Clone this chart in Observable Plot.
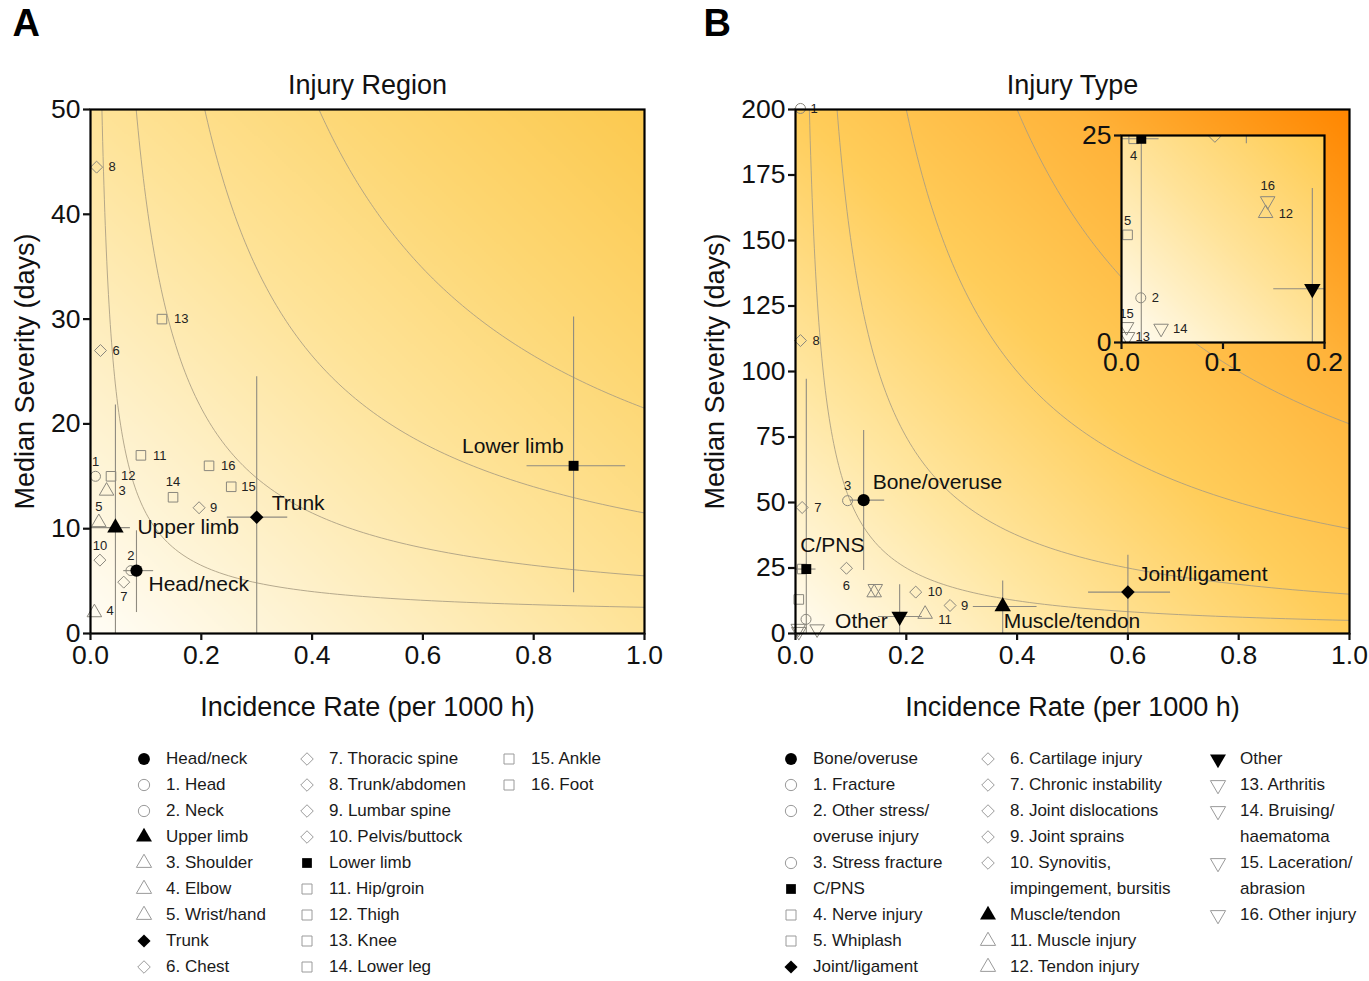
<!DOCTYPE html>
<html>
<head>
<meta charset="utf-8">
<script src="https://cdn.jsdelivr.net/npm/d3@7"></script>
<script src="https://cdn.jsdelivr.net/npm/@observablehq/plot@0.6"></script>
<style>
  body { margin: 0; background: #ffffff; font-family: "Liberation Sans", Arial, Helvetica, sans-serif; }
  #root { position: relative; width: 1369px; height: 981px; overflow: hidden; background: #fff; }
  .legcol { position: absolute; top: 746px; font-size: 17px; color: #1a1a1a; }
  .legitem { position: relative; }
  .legitem svg { position: absolute; left: 0; top: 0; }
  .legitem .t { position: relative; left: 33px; line-height: 26px; white-space: pre; }
</style>
</head>
<body>
<div id="root"></div>
<script>
// ---------------- Panel A data: Injury Region ----------------
const regionGroups = ["Head/neck", "Upper limb", "Trunk", "Lower limb"];
const regionGroupSymbol = ["circle", "triangle", "diamond", "square"];
const regionGroupRate = [0.083, 0.045, 0.300, 0.872];
const regionGroupSeverity = [6.0, 10.1, 11.1, 16.0];
const regionGroupRateLow = [0.060, 0.000, 0.247, 0.788];
const regionGroupRateHigh = [0.114, 0.072, 0.356, 0.966];
const regionGroupSevLow = [2.0, 0.0, 0.0, 3.9];
const regionGroupSevHigh = [9.8, 21.8, 24.5, 30.2];

const regions = ["1. Head", "2. Neck", "3. Shoulder", "4. Elbow", "5. Wrist/hand", "6. Chest",
  "7. Thoracic spine", "8. Trunk/abdomen", "9. Lumbar spine", "10. Pelvis/buttock", "11. Hip/groin",
  "12. Thigh", "13. Knee", "14. Lower leg", "15. Ankle", "16. Foot"];
const regionGroupOf = [0, 0, 1, 1, 1, 2, 2, 2, 2, 2, 3, 3, 3, 3, 3, 3];
const regionRate = [0.009, 0.073, 0.029, 0.007, 0.015, 0.018, 0.060, 0.011, 0.196, 0.017, 0.091, 0.037, 0.129, 0.149, 0.254, 0.214];
const regionSeverity = [15.0, 6.0, 13.6, 2.0, 10.6, 27.0, 4.9, 44.5, 12.0, 7.0, 17.0, 15.0, 30.0, 13.0, 14.0, 16.0];
const regionBurdenLevels = [1, 4, 10, 20];
const regionBurdenOffset = 1.5;

// ---------------- Panel B data: Injury Type ----------------
const typeGroups = ["Bone/overuse", "C/PNS", "Joint/ligament", "Muscle/tendon", "Other"];
const typeGroupSymbol = ["circle", "square", "diamond", "triangle", "triangleDown"];
const typeGroupRate = [0.123, 0.0195, 0.600, 0.374, 0.188];
const typeGroupSeverity = [50.9, 24.6, 15.8, 10.3, 6.5];
const typeGroupRateLow = [0.099, 0.000, 0.529, 0.321, 0.150];
const typeGroupRateHigh = [0.161, 0.037, 0.677, 0.436, 0.229];
const typeGroupSevLow = [24.0, 0.0, 0.0, 0.0, 0.0];
const typeGroupSevHigh = [77.5, 97.0, 29.9, 20.0, 18.6];

const types = ["1. Fracture", "2. Other stress/\noveruse injury", "3. Stress fracture", "4. Nerve injury",
  "5. Whiplash", "6. Cartilage injury", "7. Chronic instability", "8. Joint dislocations", "9. Joint sprains",
  "10. Synovitis,\nimpingement, bursitis", "11. Muscle injury", "12. Tendon injury", "13. Arthritis",
  "14. Bruising/\nhaematoma", "15. Laceration/\nabrasion", "16. Other injury"];
const typeGroupOf = [0, 0, 0, 1, 1, 2, 2, 2, 2, 2, 3, 3, 4, 4, 4, 4];
const typeRate = [0.009, 0.019, 0.094, 0.012, 0.006, 0.092, 0.012, 0.009, 0.279, 0.217, 0.234, 0.142, 0.006, 0.039, 0.005, 0.144];
const typeSeverity = [200.4, 5.4, 50.7, 24.6, 13.0, 24.9, 48.1, 111.8, 10.7, 15.8, 7.4, 15.6, 0.7, 1.7, 1.9, 17.1];
const typeBurdenLevels = [5, 15, 40, 80];

const xTicks = [0, 0.2, 0.4, 0.6, 0.8, 1.0];
const yTicksA = [0, 10, 20, 30, 40, 50];
const yTicksB = [0, 25, 50, 75, 100, 125, 150, 175, 200];
const insetXTicks = [0, 0.1, 0.2];
const insetYTicks = [0, 25];

// ---------------- styling / placement ----------------
const FONT = '"Liberation Sans", Arial, Helvetica, sans-serif';
const TICK_FONT = 26.5;
const triangleDown = {
  draw(context, size) {
    const y = Math.sqrt(size / (Math.sqrt(3) * 3));
    context.moveTo(0, 2 * y);
    context.lineTo(-Math.sqrt(3) * y, -y);
    context.lineTo(Math.sqrt(3) * y, -y);
    context.closePath();
  }
};
const plotSymbol = {circle: "circle", triangle: "triangle", diamond: "diamond2", square: "square", triangleDown};
const d3Symbol = {circle: d3.symbolCircle, triangle: d3.symbolTriangle, diamond: d3.symbolDiamond2, square: d3.symbolSquare, triangleDown};

const SUB_STROKE = "#8a877d";
const BAR_STROKE = "#8f8b80";
const ISO_STROKE = "#a89c82";

// label placement (dx, dy, anchor) keyed by item number
const R = [12, 0, "start"];
const regionLabelPlace = {1: [0, -14, "middle"], 2: [0, -15, "middle"], 3: [12, 0, "start"], 4: [12, -2, "start"],
  5: [0, -16, "middle"], 6: R, 7: [0, 15, "middle"], 8: R, 9: [11, 0, "start"], 10: [0, -14, "middle"],
  11: R, 12: [10, 0, "start"], 13: R, 14: [0, -15, "middle"], 15: [10, 0, "start"], 16: R};
const typeLabelPlaceMain = {1: [10, 0, "start"], 3: [0, -15, "middle"], 6: [0, 18, "middle"], 7: R, 8: R,
  9: [11, 0, "start"], 10: R, 11: [13, 6, "start"]};
const typeLabelPlaceInset = {2: [11, 0, "start"], 4: [0, 17, "middle"], 5: [0, -14, "middle"], 12: [13, 0, "start"],
  13: [8, 0, "start"], 14: [12, 0, "start"], 15: [0, -13, "middle"], 16: [0, -15, "middle"]};
const regionGroupLabelPlace = {"Head/neck": [12, 14, "start"], "Upper limb": [22, 0, "start"],
  "Trunk": [15, -14, "start"], "Lower limb": [-10, -20, "end"]};
const typeGroupLabelPlace = {"Bone/overuse": [9, -18, "start"], "C/PNS": [-6, -24, "start"],
  "Joint/ligament": [10, -18, "start"], "Muscle/tendon": [1, 15, "start"], "Other": [-12, 5, "end"]};

// ---------------- build tables ----------------
const groupTable = (names, sym, rate, sev, rl, rh, sl, sh) => names.map((name, i) => ({
  name, symbol: sym[i], rate: rate[i], sev: sev[i], rateLow: rl[i], rateHigh: rh[i], sevLow: sl[i], sevHigh: sh[i]}));
const subTable = (names, groupOf, groupSym, rate, sev) => names.map((name, i) => ({
  name, num: name.split(".")[0], group: groupOf[i], symbol: groupSym[groupOf[i]], rate: rate[i], sev: sev[i]}));

const regionGroupData = groupTable(regionGroups, regionGroupSymbol, regionGroupRate, regionGroupSeverity,
  regionGroupRateLow, regionGroupRateHigh, regionGroupSevLow, regionGroupSevHigh);
const regionData = subTable(regions, regionGroupOf, regionGroupSymbol, regionRate, regionSeverity);
const typeGroupData = groupTable(typeGroups, typeGroupSymbol, typeGroupRate, typeGroupSeverity,
  typeGroupRateLow, typeGroupRateHigh, typeGroupSevLow, typeGroupSevHigh);
const typeData = subTable(types, typeGroupOf, typeGroupSymbol, typeRate, typeSeverity);

function isoCurves(levels, offset, xMax, yMax) {
  return levels.flatMap(c => {
    const x0 = c / (yMax - offset);
    return d3.range(121).map(k => {
      const x = x0 * Math.pow(xMax / x0, k / 120);
      return {level: c, x, y: c / x + offset};
    });
  });
}

function pointMarks(groups, subs, opts) {
  const clip = !!opts.clip;
  const marks = [];
  marks.push(Plot.ruleX(groups, {x: "rate", y1: "sevLow", y2: "sevHigh", stroke: BAR_STROKE, strokeWidth: 1.1, clip}));
  marks.push(Plot.ruleY(groups, {y: "sev", x1: "rateLow", x2: "rateHigh", stroke: BAR_STROKE, strokeWidth: 1.1, clip}));
  for (const s of new Set(subs.map(d => d.symbol))) {
    marks.push(Plot.dot(subs.filter(d => d.symbol === s), {x: "rate", y: "sev", r: s === "circle" ? 5 : 5.4,
      symbol: plotSymbol[s], fill: "none", stroke: SUB_STROKE, strokeWidth: 1, clip}));
  }
  for (const s of new Set(groups.map(d => d.symbol))) {
    marks.push(Plot.dot(groups.filter(d => d.symbol === s), {x: "rate", y: "sev", r: s === "square" ? 5.6 : 6.1,
      symbol: plotSymbol[s], fill: "black", stroke: "none", clip}));
  }
  for (const d of subs) {
    const p = opts.numPlace[d.num];
    if (!p) continue;
    marks.push(Plot.text([d], {x: "rate", y: "sev", text: "num", dx: p[0], dy: p[1], textAnchor: p[2],
      lineAnchor: "middle", fontSize: 13, fill: "#222", clip}));
  }
  if (opts.groupPlace) {
    for (const d of groups) {
      const p = opts.groupPlace[d.name];
      marks.push(Plot.text([d], {x: "rate", y: "sev", text: "name", dx: p[0], dy: p[1], textAnchor: p[2],
        lineAnchor: "middle", fontSize: 21, fill: "#111"}));
    }
  }
  return marks;
}

function mainPanel({left, width, letter, letterDx, title, yDomain, yTicks, yLabelDx, gradient, colorRange,
                    iso, groups, subs, numPlace, groupPlace}) {
  return Plot.plot({
    width, height: 735,
    marginLeft: 90, marginRight: width - 90 - 554, marginTop: 109, marginBottom: 102,
    style: {position: "absolute", left: left + "px", top: "0px", background: "transparent",
      overflow: "visible", fontFamily: FONT, fontSize: TICK_FONT + "px", color: "#111"},
    x: {domain: [0, 1]},
    y: {domain: yDomain},
    color: {type: "linear", domain: [0, 0.25, 0.5, 0.75, 1], range: colorRange, interpolate: "rgb"},
    marks: [
      Plot.raster({x1: 0, x2: 1, y1: yDomain[0], y2: yDomain[1], fill: gradient, pixelSize: 2, imageRendering: "auto"}),
      Plot.line(iso, {x: "x", y: "y", z: "level", stroke: ISO_STROKE, strokeWidth: 1, strokeOpacity: 0.85, clip: true}),
      ...pointMarks(groups, subs, {numPlace, groupPlace}),
      Plot.frame({stroke: "black", strokeWidth: 2.2}),
      Plot.axisX({ticks: xTicks, tickFormat: d3.format(".1f"), tickSize: 7, tickPadding: 5, strokeWidth: 2.2,
        label: null, fontSize: TICK_FONT, fill: "#111"}),
      Plot.axisY({ticks: yTicks, tickFormat: d3.format("d"), tickSize: 7, tickPadding: 3, strokeWidth: 2.2,
        label: null, fontSize: TICK_FONT, fill: "#111"}),
      Plot.text(["Incidence Rate (per 1000 h)"], {frameAnchor: "bottom", dy: 74, textAnchor: "middle",
        lineAnchor: "middle", fontSize: 27, fill: "#111"}),
      Plot.text(["Median Severity (days)"], {frameAnchor: "left", dx: yLabelDx, rotate: -90, textAnchor: "middle",
        lineAnchor: "middle", fontSize: 27, fill: "#111"}),
      Plot.text([title], {frameAnchor: "top", dy: -24, textAnchor: "middle", lineAnchor: "middle", fontSize: 27, fill: "#111"}),
      Plot.text([letter], {frameAnchor: "top-left", dx: letterDx, dy: -86, fontSize: 38, fontWeight: "bold",
        textAnchor: "start", lineAnchor: "middle", fill: "#000"})
    ]
  });
}

const root = document.getElementById("root");

const plotA = mainPanel({
  left: 0, width: 700, letter: "A", letterDx: -78, title: "Injury Region",
  yDomain: [0, 50], yTicks: yTicksA, yLabelDx: -65,
  gradient: (x, y) => (x / 1 + y / 50) / 2,
  colorRange: ["#fffdf6", "#fef0c8", "#fee398", "#fdd671", "#fcc94f"],
  iso: isoCurves(regionBurdenLevels, regionBurdenOffset, 1, 50),
  groups: regionGroupData, subs: regionData, numPlace: regionLabelPlace, groupPlace: regionGroupLabelPlace
});
root.appendChild(plotA);

const plotB = mainPanel({
  left: 705, width: 664, letter: "B", letterDx: -92, title: "Injury Type",
  yDomain: [0, 200], yTicks: yTicksB, yLabelDx: -80,
  gradient: (x, y) => (x / 1 + y / 200) / 2,
  colorRange: ["#fffcf2", "#ffe6a0", "#ffcd5a", "#ffb33a", "#ff8600"],
  iso: isoCurves(typeBurdenLevels, 0, 1, 200),
  groups: typeGroupData, subs: typeData, numPlace: typeLabelPlaceMain, groupPlace: typeGroupLabelPlace
});
root.appendChild(plotB);

// inset of panel B (zoom of 0–0.2 × 0–25)
const inset = Plot.plot({
  width: 263, height: 262,
  marginLeft: 45, marginRight: 15, marginTop: 15, marginBottom: 40,
  style: {position: "absolute", left: "1076px", top: "120px", background: "transparent",
    overflow: "visible", fontFamily: FONT, fontSize: TICK_FONT + "px", color: "#111"},
  x: {domain: [0, 0.2]},
  y: {domain: [0, 25]},
  color: {type: "linear", domain: [0, 0.25, 0.5, 0.75, 1], range: ["#fffdf6", "#fff0c6", "#ffe39a", "#ffd775", "#ffcb50"], interpolate: "rgb"},
  marks: [
    Plot.raster({x1: 0, x2: 0.2, y1: 0, y2: 25, fill: (x, y) => (x / 0.2 + y / 25) / 2, pixelSize: 2, imageRendering: "auto"}),
    ...pointMarks(typeGroupData, typeData, {numPlace: typeLabelPlaceInset, clip: true}),
    Plot.frame({stroke: "black", strokeWidth: 2.2}),
    Plot.axisX({ticks: insetXTicks, tickFormat: d3.format(".1f"), tickSize: 7, tickPadding: 3, strokeWidth: 2.2,
      label: null, fontSize: TICK_FONT, fill: "#111"}),
    Plot.axisY({ticks: insetYTicks, tickFormat: d3.format("d"), tickSize: 7, tickPadding: 3, strokeWidth: 2.2,
      label: null, fontSize: TICK_FONT, fill: "#111"})
  ]
});
root.appendChild(inset);

// ---------------- legends ----------------
function legendItems(groups, subs) {
  const items = [];
  groups.forEach((g, gi) => {
    items.push({label: g.name, symbol: g.symbol, filled: true});
    subs.filter(s => s.group === gi).forEach(s => items.push({label: s.name, symbol: s.symbol, filled: false}));
  });
  return items;
}

function drawLegend(items, symbolXs) {
  const cols = [[]];
  let rows = 0;
  for (const it of items) {
    const n = it.label.split("\n").length;
    if (rows + n > 9) { cols.push([]); rows = 0; }
    cols[cols.length - 1].push(it);
    rows += n;
  }
  cols.forEach((col, ci) => {
    const div = document.createElement("div");
    div.className = "legcol";
    div.style.left = (symbolXs[ci] - 11) + "px";
    for (const it of col) {
      const item = document.createElement("div");
      item.className = "legitem";
      const svg = d3.create("svg").attr("width", 22).attr("height", 26);
      const size = it.filled ? (it.symbol === "square" ? 95 : 110) : 100;
      svg.append("path")
        .attr("transform", "translate(11,13)")
        .attr("d", d3.symbol(d3Symbol[it.symbol], size)())
        .attr("fill", it.filled ? "#000" : "none")
        .attr("stroke", it.filled ? "none" : "#9a9a9a")
        .attr("stroke-width", 1);
      item.appendChild(svg.node());
      const t = document.createElement("div");
      t.className = "t";
      t.textContent = it.label;
      item.appendChild(t);
      div.appendChild(item);
    }
    root.appendChild(div);
  });
}
drawLegend(legendItems(regionGroupData, regionData), [144, 307, 509]);
drawLegend(legendItems(typeGroupData, typeData), [791, 988, 1218]);
</script>
</body>
</html>
